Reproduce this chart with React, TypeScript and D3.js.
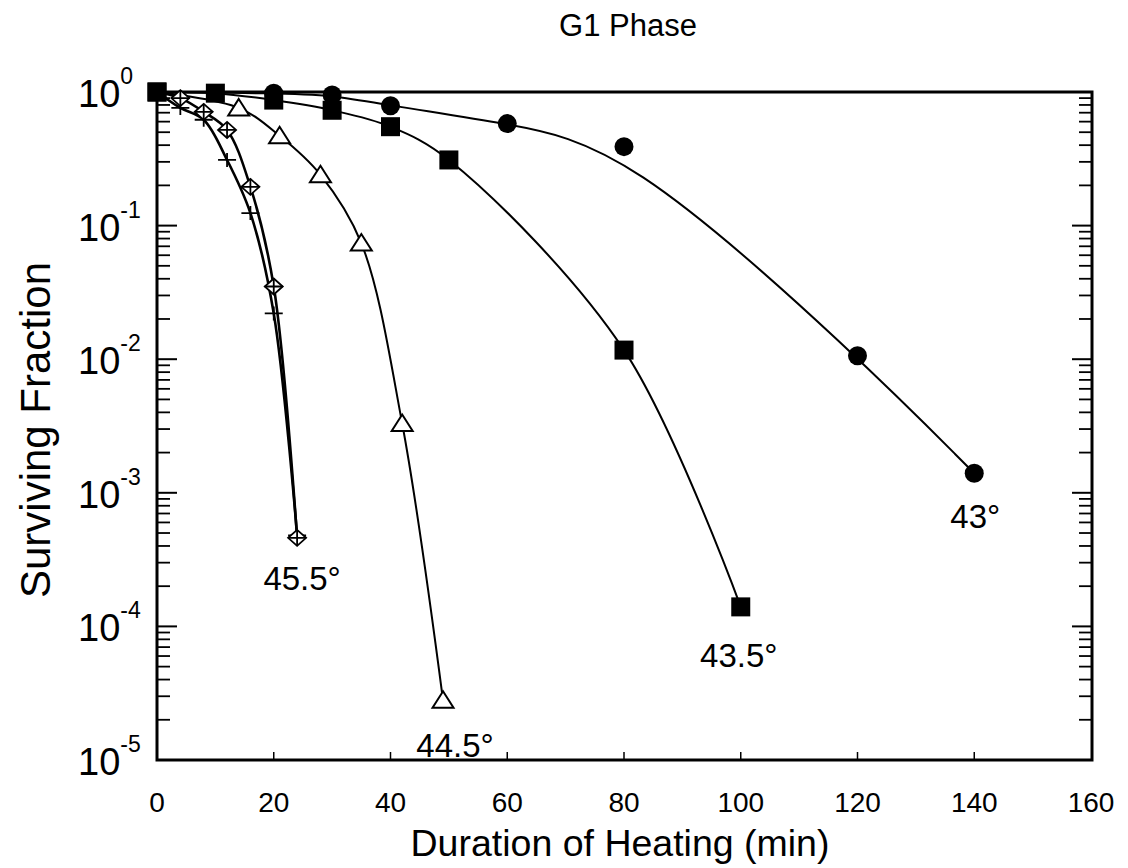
import React from "react";
import * as d3 from "d3";

// Survival of G1-phase cells after heating at four temperatures
const untreatedTime = 0;
const untreatedSurvival = 1.0;

const time43 = [20, 30, 40, 60, 80, 120, 140];
const surv43 = [0.98, 0.95, 0.79, 0.58, 0.39, 0.0106, 0.0014];

const time435 = [0, 10, 20, 30, 40, 50, 80, 100];
const surv435 = [1.0, 0.98, 0.87, 0.73, 0.55, 0.31, 0.0117, 0.00014];

const time445 = [14, 21, 28, 35, 42, 49];
const surv445 = [0.76, 0.47, 0.24, 0.074, 0.0033, 0.000028];

const time455a = [4, 8, 12, 16, 20, 24];
const surv455a = [0.9, 0.71, 0.52, 0.195, 0.035, 0.00046];

const time455b = [4, 8, 12, 16, 20, 24];
const surv455b = [0.76, 0.62, 0.31, 0.124, 0.022, 0.00048];

const xTickValues = [0, 20, 40, 60, 80, 100, 120, 140, 160];
const yExponents = [0, -1, -2, -3, -4, -5];

const W = 1128;
const H = 868;
const plot = { left: 157, right: 1092, top: 92, bottom: 760 };

type Marker = "circle" | "square" | "triangle" | "diamondCross" | "cross";

interface Series {
  key: string;
  times: number[];
  values: number[];
  marker: Marker;
  width: number;
  smooth: "basis" | "catmull";
  label?: string;
  labelDx?: number;
  labelDy?: number;
}

const series: Series[] = [
  { key: "43", times: time43, values: surv43, marker: "circle", width: 2, smooth: "basis", label: "43°", labelDx: 1, labelDy: 55 },
  { key: "44.5", times: time445, values: surv445, marker: "triangle", width: 2, smooth: "catmull", label: "44.5°", labelDx: 12, labelDy: 57 },
  { key: "45.5b", times: time455b, values: surv455b, marker: "cross", width: 2.6, smooth: "catmull" },
  { key: "45.5a", times: time455a, values: surv455a, marker: "diamondCross", width: 2.6, smooth: "catmull", label: "45.5°", labelDx: 5, labelDy: 52 },
  { key: "43.5", times: time435, values: surv435, marker: "square", width: 2, smooth: "catmull", label: "43.5°", labelDx: -2, labelDy: 60 },
];

const FONT = "'Liberation Sans', Arial, Helvetica, sans-serif";

function MarkerShape({ kind, cx, cy }: { kind: Marker; cx: number; cy: number }) {
  switch (kind) {
    case "circle":
      return <circle cx={cx} cy={cy} r={9.5} fill="#000" />;
    case "square":
      return <rect x={cx - 9.5} y={cy - 9.5} width={19} height={19} fill="#000" />;
    case "triangle":
      return (
        <path
          d={`M${cx},${cy - 9} L${cx + 10.5},${cy + 7.5} L${cx - 10.5},${cy + 7.5} Z`}
          fill="#fff"
          stroke="#000"
          strokeWidth={2}
        />
      );
    case "diamondCross":
      return (
        <g stroke="#000" strokeWidth={1.8} fill="#fff">
          <path d={`M${cx},${cy - 8} L${cx + 9},${cy} L${cx},${cy + 8} L${cx - 9},${cy} Z`} />
          <path d={`M${cx - 9},${cy} H${cx + 9} M${cx},${cy - 8} V${cy + 8}`} fill="none" />
        </g>
      );
    case "cross":
      return (
        <path
          d={`M${cx - 9},${cy} H${cx + 9} M${cx},${cy - 7} V${cy + 7}`}
          stroke="#000"
          strokeWidth={1.8}
          fill="none"
        />
      );
  }
}

export default function App() {
  const x = d3.scaleLinear().domain([0, 160]).range([plot.left, plot.right - 1]);
  const y = d3.scaleLog().domain([1, 1e-5]).range([plot.top, plot.bottom]);

  const makeLine = (smooth: "basis" | "catmull") =>
    d3
      .line<[number, number]>()
      .x((d) => x(d[0]))
      .y((d) => y(d[1]))
      .curve(smooth === "basis" ? d3.curveBasis : d3.curveCatmullRom.alpha(0.5));

  // minor log ticks (2..9 within each decade)
  const minorTicks: number[] = [];
  for (let e = -5; e < 0; e++) {
    for (let m = 2; m <= 9; m++) minorTicks.push(m * Math.pow(10, e));
  }
  const majorTicks = yExponents.map((e) => Math.pow(10, e));

  return (
    <svg
      width={W}
      height={H}
      viewBox={`0 0 ${W} ${H}`}
      style={{ position: "absolute", left: 0, top: 0, background: "#fff" }}
      fontFamily={FONT}
    >
      <rect x={0} y={0} width={W} height={H} fill="#fff" />

      {/* title */}
      <text x={628} y={36} textAnchor="middle" fontSize={31} fill="#000">
        G1 Phase
      </text>

      {/* y ticks on both sides, pointing inward */}
      <g stroke="#000">
        {majorTicks.map((v, i) => (
          <g key={`maj${i}`} strokeWidth={2}>
            <line x1={plot.left} x2={plot.left + 20} y1={y(v)} y2={y(v)} />
            <line x1={plot.right} x2={plot.right - 20} y1={y(v)} y2={y(v)} />
          </g>
        ))}
        {minorTicks.map((v, i) => (
          <g key={`min${i}`} strokeWidth={1.8}>
            <line x1={plot.left} x2={plot.left + 13} y1={y(v)} y2={y(v)} />
            <line x1={plot.right} x2={plot.right - 13} y1={y(v)} y2={y(v)} />
          </g>
        ))}
        {xTickValues.slice(1, -1).map((t) => (
          <line key={`xt${t}`} x1={x(t)} x2={x(t)} y1={plot.bottom} y2={plot.bottom - 8} strokeWidth={1.5} />
        ))}
      </g>

      {/* frame */}
      <rect
        x={plot.left}
        y={plot.top}
        width={plot.right - plot.left}
        height={plot.bottom - plot.top}
        fill="none"
        stroke="#000"
        strokeWidth={3}
      />

      {/* y tick labels */}
      {yExponents.map((e) => (
        <text key={`yl${e}`} x={78} y={y(Math.pow(10, e)) + 15} textAnchor="start" fontSize={38} fill="#000">
          10
          <tspan dy={-23} fontSize={23}>
            {e === 0 ? "0" : `-${-e}`}
          </tspan>
        </text>
      ))}

      {/* x tick labels */}
      {xTickValues.map((t) => (
        <text key={`xl${t}`} x={x(t)} y={812} textAnchor="middle" fontSize={28} fill="#000">
          {t}
        </text>
      ))}

      {/* axis titles */}
      <text x={620} y={856} textAnchor="middle" fontSize={37.5} fill="#000">
        Duration of Heating (min)
      </text>
      <text
        transform="translate(50,430) rotate(-90)"
        textAnchor="middle"
        fontSize={42}
        fill="#000"
      >
        Surviving Fraction
      </text>

      {/* survival curves */}
      {series.map((s) => {
        const pts: [number, number][] = [[untreatedTime, untreatedSurvival]];
        s.times.forEach((t, i) => {
          if (t !== untreatedTime) pts.push([t, s.values[i]]);
        });
        return (
          <path key={`ln${s.key}`} d={makeLine(s.smooth)(pts) || ""} fill="none" stroke="#000" strokeWidth={s.width} />
        );
      })}

      {/* data markers */}
      {series.map((s) => (
        <g key={`mk${s.key}`}>
          {s.times.map((t, i) => (
            <MarkerShape key={i} kind={s.marker} cx={x(t)} cy={y(s.values[i])} />
          ))}
        </g>
      ))}
      <MarkerShape kind="square" cx={x(untreatedTime)} cy={y(untreatedSurvival)} />

      {/* temperature labels */}
      {series
        .filter((s) => s.label)
        .map((s) => {
          const n = s.times.length - 1;
          return (
            <text
              key={`lb${s.key}`}
              x={x(s.times[n]) + (s.labelDx || 0)}
              y={y(s.values[n]) + (s.labelDy || 0)}
              textAnchor="middle"
              fontSize={33}
              fill="#000"
            >
              {s.label}
            </text>
          );
        })}
    </svg>
  );
}
